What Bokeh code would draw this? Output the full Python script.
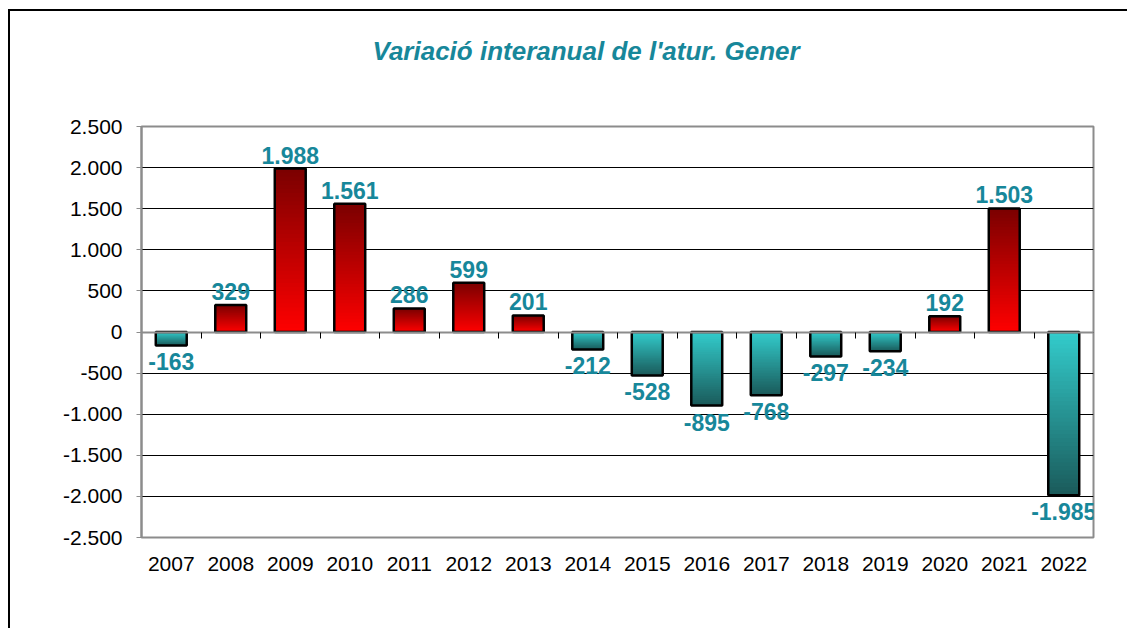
import numpy as np
from bokeh.plotting import figure
from bokeh.models import FixedTicker, LinearAxis, Range1d, Title, LabelSet, ColumnDataSource
from bokeh.embed import file_html
from bokeh.resources import INLINE
from bokeh.core.properties import value

years = ["2007", "2008", "2009", "2010", "2011", "2012", "2013", "2014",
         "2015", "2016", "2017", "2018", "2019", "2020", "2021", "2022"]
values = [-163, 329, 1988, 1561, 286, 599, 201, -212,
          -528, -895, -768, -297, -234, 192, 1503, -1985]
value_labels = ["-163", "329", "1.988", "1.561", "286", "599", "201", "-212",
                "-528", "-895", "-768", "-297", "-234", "192", "1.503", "-1.985"]
y_ticks = [-2500, -2000, -1500, -1000, -500, 0, 500, 1000, 1500, 2000, 2500]
y_tick_labels = ["-2.500", "-2.000", "-1.500", "-1.000", "-500", "0", "500",
                 "1.000", "1.500", "2.000", "2.500"]
title_text = "Variació interanual de l'atur. Gener"

TEAL = "#17879a"
FONT = "Liberation Sans"

xs = np.arange(1, len(years) + 1)

p = figure(width=1119, height=619, output_backend="svg", toolbar_location=None,
           x_range=Range1d(0.5, len(years) + 0.5), y_range=Range1d(-2500, 2500),
           min_border_left=131, min_border_right=36, min_border_top=115,
           min_border_bottom=93,
           styles={"border-left": "2px solid black", "border-top": "2px solid black",
                   "margin-left": "8px", "margin-top": "9px"})
p.outline_line_color = "#8c8c8c"
p.outline_line_width = 2
p.background_fill_color = "white"
p.border_fill_color = "white"
p.title.text = ""

# spacer between frame and title, then the title itself (outermost)
spacer = Title(text=" ", text_font_size="10px", standoff=48)
p.add_layout(spacer, "above")
main_title = Title(text=title_text, text_font=FONT, text_font_style="bold italic",
                   text_font_size="26px", text_color=TEAL, align="left",
                   offset=231, standoff=0)
p.add_layout(main_title, "above")

# Grid
p.xgrid.grid_line_color = None
p.ygrid.ticker = FixedTicker(ticks=y_ticks)
p.ygrid.grid_line_color = "black"
p.ygrid.grid_line_width = 1

# Y axis
p.yaxis.ticker = FixedTicker(ticks=y_ticks)
p.yaxis.major_label_overrides = {t: l for t, l in zip(y_ticks, y_tick_labels)}
p.yaxis.major_label_text_font = FONT
p.yaxis.major_label_text_font_size = "21px"
p.yaxis.major_label_text_color = "black"
p.yaxis.axis_line_color = "#8c8c8c"
p.yaxis.axis_line_width = 2
p.yaxis.major_tick_line_color = "#8c8c8c"
p.yaxis.major_tick_in = 0
p.yaxis.major_tick_out = 5
p.yaxis.minor_tick_line_color = None
p.yaxis.major_label_standoff = 14

# X axis (labels only)
p.xaxis.ticker = FixedTicker(ticks=list(xs))
p.xaxis.major_label_overrides = {int(x): y for x, y in zip(xs, years)}
p.xaxis.major_label_text_font = FONT
p.xaxis.major_label_text_font_size = "21px"
p.xaxis.major_label_text_color = "black"
p.xaxis.axis_line_color = None
p.xaxis.major_tick_line_color = None
p.xaxis.minor_tick_line_color = None
p.xaxis.major_label_standoff = 13

# Zero axis with boundary ticks
bticks = [float(x) + 0.5 for x in xs[:-1]]
zero_axis = LinearAxis(fixed_location=0, ticker=FixedTicker(ticks=bticks))
zero_axis.major_label_overrides = {t: "" for t in bticks}
zero_axis.axis_line_color = "#8c8c8c"
zero_axis.axis_line_width = 2
zero_axis.major_tick_line_color = "black"
zero_axis.major_tick_in = 0
zero_axis.major_tick_out = 6
zero_axis.minor_tick_line_color = None
p.add_layout(zero_axis, "below")

# Gradient bars (nested quads drawn from the bar end inward -> no seams)
def lerp(c1, c2, t):
    return "#%02x%02x%02x" % tuple(int(round(a + (b - a) * t)) for a, b in zip(c1, c2))

RED_TOP = (0x7a, 0x00, 0x00)
RED_BOT = (0xff, 0x00, 0x00)
CY_TOP = (0x33, 0xcc, 0xcc)
CY_BOT = (0x1a, 0x5a, 0x5a)
N = 40
bw = 0.52
l_, r_, b_, t_, c_ = [], [], [], [], []
for i in range(N - 1, -1, -1):
    f = (i + 0.5) / N
    for x, v in zip(xs, values):
        end = v * (i + 1) / N
        col = lerp(RED_BOT, RED_TOP, f) if v >= 0 else lerp(CY_TOP, CY_BOT, f)
        l_.append(x - bw / 2); r_.append(x + bw / 2)
        b_.append(min(0, end)); t_.append(max(0, end)); c_.append(col)
p.quad(left=l_, right=r_, bottom=b_, top=t_, fill_color=c_, line_color=None)

vals = np.array(values)
p.quad(left=xs - bw / 2, right=xs + bw / 2, bottom=np.minimum(vals, 0),
       top=np.maximum(vals, 0), fill_color=None, line_color="black", line_width=2.5)

# Value labels (annotations, so they may extend past the frame)
pos = vals >= 0
neg = ~pos
src_pos = ColumnDataSource(dict(x=xs[pos], y=vals[pos],
                                t=[l for l, q in zip(value_labels, pos) if q]))
src_neg = ColumnDataSource(dict(x=xs[neg], y=vals[neg],
                                t=[l for l, q in zip(value_labels, neg) if q]))
p.add_layout(LabelSet(x="x", y="y", text="t", source=src_pos,
                      text_align="center", text_baseline="bottom", y_offset=5,
                      text_font=value(FONT), text_font_style="bold",
                      text_font_size="23px", text_color=TEAL))
p.add_layout(LabelSet(x="x", y="y", text="t", source=src_neg,
                      text_align="center", text_baseline="top", y_offset=-8,
                      text_font=value(FONT), text_font_style="bold",
                      text_font_size="23px", text_color=TEAL))

open("out.html", "w").write(file_html(p, INLINE))
